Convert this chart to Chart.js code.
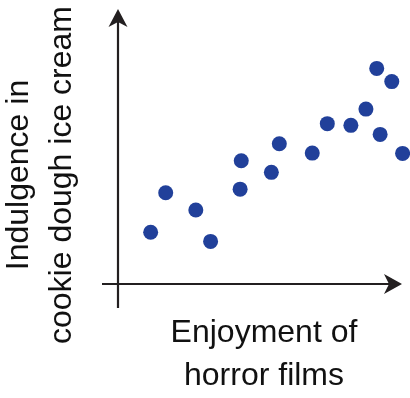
<!DOCTYPE html>
<html>
<head>
<meta charset="utf-8">
<script src="https://cdn.jsdelivr.net/npm/chart.js@4"></script>
<style>
    body { margin: 0; background: #fff; }
    #wrap { width: 410px; height: 398px; position: relative; }
</style>
</head>
<body>
<div id="wrap"><canvas id="scatter"></canvas></div>
<script>
// enjoyment of horror films (x) vs indulgence in cookie dough ice cream (y), 0-10 scale
const enjoyment = [1.15, 1.68, 2.74, 3.26, 4.30, 4.34, 5.40, 5.68, 6.84, 7.37, 8.20, 8.73, 9.11, 9.64, 9.23, 10.02];
const indulgence = [1.88, 3.32, 2.69, 1.55, 3.45, 4.48, 4.06, 5.10, 4.76, 5.83, 5.77, 6.36, 7.84, 7.36, 5.44, 4.75];

const xTitle = ["Enjoyment of", "horror films"];
const yTitle = ["Indulgence in", "cookie dough ice cream"];

const AXIS_COLOR = "#231f20";
const DOT_COLOR = "#21409a";
const FONT = "32px 'Liberation Sans', Arial, sans-serif";

const points = enjoyment.map((x, i) => ({ x: x, y: indulgence[i] }));

// draws the arrowed axes and the two axis captions
const axesPlugin = {
    id: "arrowAxes",
    afterDraw(chart) {
        const ctx = chart.ctx;
        const xs = chart.scales.x;
        const ys = chart.scales.y;
        const x0 = xs.getPixelForValue(0);
        const xEnd = xs.getPixelForValue(10);
        const y0 = ys.getPixelForValue(0);
        const yEnd = ys.getPixelForValue(10);

        ctx.save();
        ctx.strokeStyle = AXIS_COLOR;
        ctx.fillStyle = AXIS_COLOR;
        ctx.lineWidth = 2.2;

        // vertical axis
        ctx.beginPath();
        ctx.moveTo(x0, yEnd + 12);
        ctx.lineTo(x0, y0 + 24);
        ctx.stroke();
        ctx.beginPath();
        ctx.moveTo(x0, yEnd);
        ctx.lineTo(x0 - 9.5, yEnd + 18);
        ctx.lineTo(x0, yEnd + 13);
        ctx.lineTo(x0 + 9.5, yEnd + 18);
        ctx.closePath();
        ctx.fill();

        // horizontal axis
        ctx.beginPath();
        ctx.moveTo(x0 - 16, y0);
        ctx.lineTo(xEnd - 12, y0);
        ctx.stroke();
        ctx.beginPath();
        ctx.moveTo(xEnd, y0);
        ctx.lineTo(xEnd - 18, y0 - 10);
        ctx.lineTo(xEnd - 13, y0);
        ctx.lineTo(xEnd - 18, y0 + 10);
        ctx.closePath();
        ctx.fill();

        // captions
        ctx.fillStyle = "#111";
        ctx.font = FONT;
        ctx.textAlign = "center";
        ctx.textBaseline = "alphabetic";
        const xMid = (x0 + chart.width) / 2;
        xTitle.forEach((line, i) => {
            ctx.fillText(line, xMid, y0 + 58 + i * 43);
        });
        yTitle.forEach((line, i) => {
            ctx.save();
            ctx.translate(28 + i * 43, 175);
            ctx.rotate(-Math.PI / 2);
            ctx.fillText(line, 0, 0);
            ctx.restore();
        });
        ctx.restore();
    },
};

new Chart(document.getElementById("scatter").getContext("2d"), {
    type: "scatter",
    data: {
        datasets: [
            {
                data: points,
                backgroundColor: DOT_COLOR,
                borderWidth: 0,
                pointRadius: 7.5,
                pointHoverRadius: 7.5,
                clip: false,
            },
        ],
    },
    options: {
        animation: false,
        responsive: true,
        maintainAspectRatio: false,
        layout: {
            padding: { left: 118, right: 8, top: 9, bottom: 114 },
        },
        plugins: {
            legend: { display: false },
            tooltip: { enabled: false },
        },
        scales: {
            x: { type: "linear", min: 0, max: 10, display: false },
            y: { type: "linear", min: 0, max: 10, display: false },
        },
    },
    plugins: [axesPlugin],
});
</script>
</body>
</html>
